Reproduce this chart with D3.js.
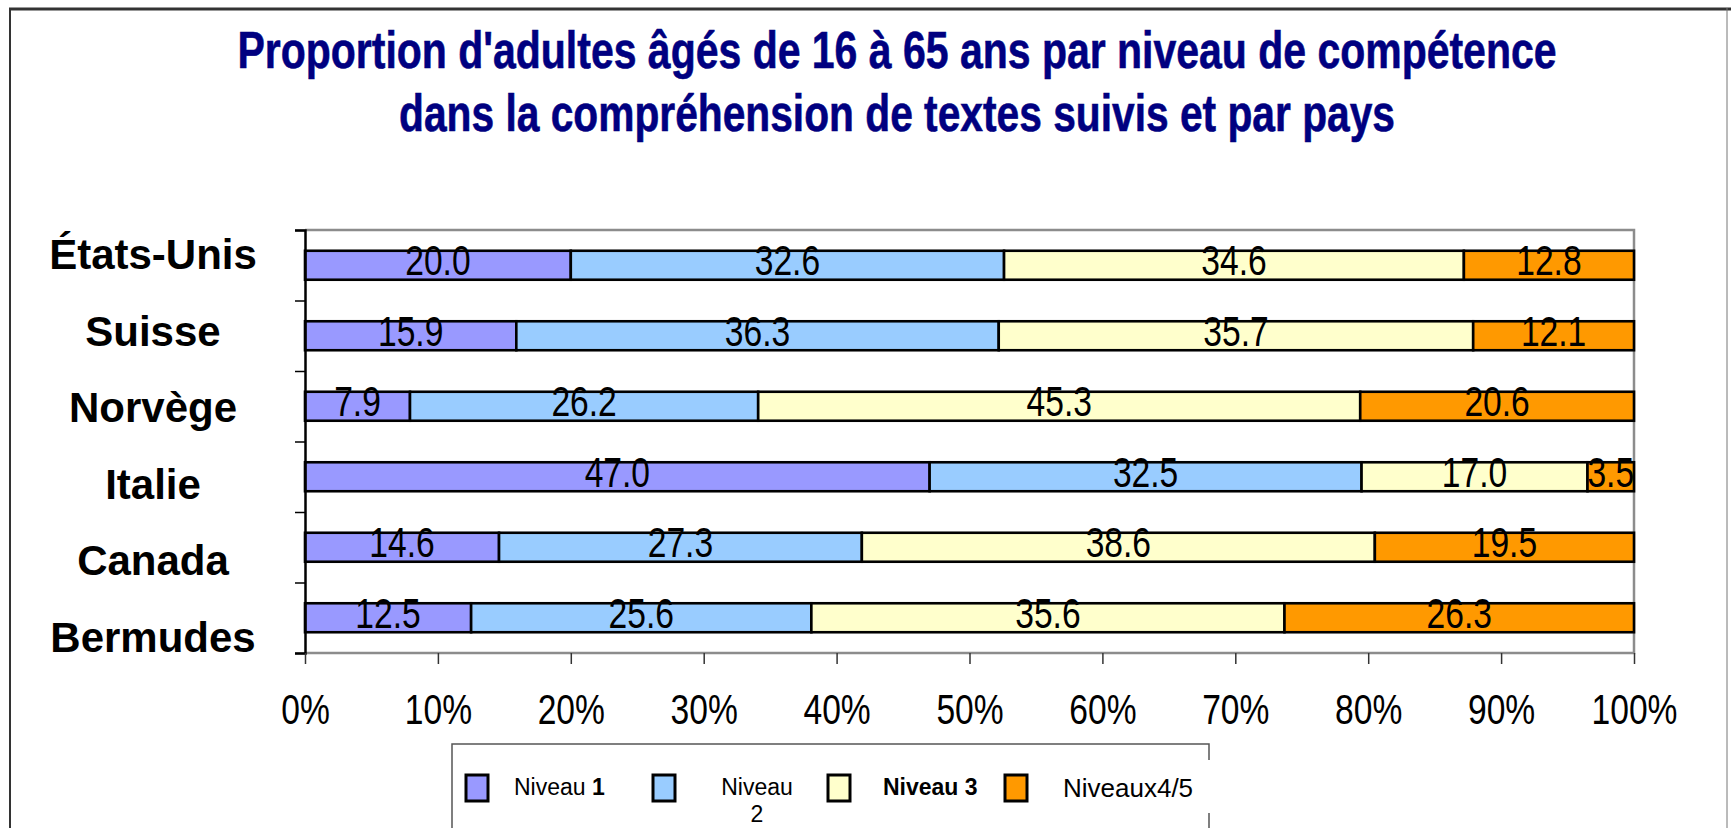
<!DOCTYPE html>
<html lang="fr">
<head>
<meta charset="utf-8">
<script src="https://d3js.org/d3.v7.min.js"></script>
<style type="text/css">
body {
	margin: 0;
	background: #fff;
	font-family: "Liberation Sans", Arial, sans-serif;
}
</style>
</head>
<body>
<script type="text/javascript">

// Data
var countries = ["États-Unis", "Suisse", "Norvège", "Italie", "Canada", "Bermudes"];
var levels = ["Niveau 1", "Niveau 2", "Niveau 3", "Niveaux4/5"];
var niveau1 = [20.0, 15.9, 7.9, 47.0, 14.6, 12.5];
var niveau2 = [32.6, 36.3, 26.2, 32.5, 27.3, 25.6];
var niveau3 = [34.6, 35.7, 45.3, 17.0, 38.6, 35.6];
var niveau45 = [12.8, 12.1, 20.6, 3.5, 19.5, 26.3];
var tickValues = [0, 10, 20, 30, 40, 50, 60, 70, 80, 90, 100];
var colors = ["#9999FF", "#99CCFF", "#FFFFCC", "#FF9900"];
var titleLines = ["Proportion d'adultes âgés de 16 à 65 ans par niveau de compétence",
                  "dans la compréhension de textes suivis et par pays"];

var width = 1731;
var height = 828;

// plot area
var plotLeft = 305, plotRight = 1634, plotTop = 230, plotBottom = 653;

var svg = d3.select("body")
			.append("svg")
			.attr("width", width)
			.attr("height", height);

// rows for the stack
var series = [niveau1, niveau2, niveau3, niveau45];
var rows = countries.map(function(c, i) {
	var r = {country: c};
	levels.forEach(function(l, j) { r[l] = series[j][i]; });
	return r;
});
var stacked = d3.stack().keys(levels)(rows);

var x = d3.scaleLinear().domain([0, 100]).range([plotLeft, plotRight]);
var y = d3.scaleBand().domain(countries).range([plotTop, plotBottom])
			.paddingInner(0.589).paddingOuter(0.2945);
var color = d3.scaleOrdinal().domain(levels).range(colors);

// outer frame
svg.append("line").attr("x1", 9).attr("x2", width).attr("y1", 9).attr("y2", 9)
	.style("stroke", "#333").style("stroke-width", 3);
svg.append("line").attr("x1", 10).attr("x2", 10).attr("y1", 8).attr("y2", height)
	.style("stroke", "#333").style("stroke-width", 2);
svg.append("line").attr("x1", 1727).attr("x2", 1727).attr("y1", 8).attr("y2", height)
	.style("stroke", "#777").style("stroke-width", 1);

// title (condensed like the original)
svg.append("g").selectAll("text")
	.data(titleLines)
	.enter()
	.append("text")
	.attr("x", 897)
	.attr("y", function(d, i) { return 68 + i * 63; })
	.attr("text-anchor", "middle")
	.attr("textLength", function(d, i) { return i === 0 ? 1319 : 996; })
	.attr("lengthAdjust", "spacingAndGlyphs")
	.style("font-size", "52px")
	.style("font-weight", "bold")
	.style("fill", "#000080")
	.style("stroke", "#000080")
	.style("stroke-width", 0.6)
	.text(function(d) { return d; });

// plot frame: grey top/right/bottom
svg.append("path")
	.attr("d", "M" + plotLeft + "," + plotTop + "H" + plotRight + "V" + plotBottom + "H" + plotLeft)
	.style("fill", "none")
	.style("stroke", "#8c8c8c")
	.style("stroke-width", 2.5);

// bars
var layer = svg.append("g").selectAll("g")
	.data(stacked)
	.enter()
	.append("g")
	.style("fill", function(d) { return color(d.key); });

layer.selectAll("rect")
	.data(function(d) { return d; })
	.enter()
	.append("rect")
	.attr("x", function(d) { return x(d[0]); })
	.attr("y", function(d) { return y(d.data.country); })
	.attr("width", function(d) { return x(d[1]) - x(d[0]); })
	.attr("height", y.bandwidth())
	.style("stroke", "#000")
	.style("stroke-width", 2.6);

// value labels
var fmt = d3.format(".1f");
stacked.forEach(function(s) {
	svg.append("g").selectAll("text")
		.data(s)
		.enter()
		.append("text")
		.attr("transform", function(d) {
			var cx = x((d[0] + d[1]) / 2);
			var cy = y(d.data.country) + y.bandwidth() / 2 + 10;
			return "translate(" + cx + "," + cy + ") scale(0.8,1)";
		})
		.attr("text-anchor", "middle")
		.style("font-size", "42px")
		.style("fill", "#000")
		.text(function(d) { return fmt(d[1] - d[0]); });
});

// left axis (ticks between categories)
var yIdx = d3.scaleLinear().domain([0, countries.length]).range([plotTop, plotBottom]);
var yAxis = svg.append("g")
	.attr("transform", "translate(" + plotLeft + ",0)")
	.call(d3.axisLeft(yIdx).ticks(countries.length).tickFormat("").tickSizeOuter(0).tickSize(10));
yAxis.select(".domain").style("stroke", "#000").style("stroke-width", 2.5);
yAxis.selectAll(".tick line").style("stroke", "#000").style("stroke-width", 1.5);

// category labels (placed independently of the bands, as in the original)
var yLabel = d3.scalePoint().domain(countries).range([269, 652]);
svg.append("g").selectAll("text")
	.data(countries)
	.enter()
	.append("text")
	.attr("x", 153)
	.attr("y", function(d) { return yLabel(d); })
	.attr("text-anchor", "middle")
	.style("font-size", "42px")
	.style("font-weight", "bold")
	.style("fill", "#000")
	.text(function(d) { return d; });

// bottom axis
var xAxis = svg.append("g")
	.attr("transform", "translate(0," + plotBottom + ")")
	.call(d3.axisBottom(x).tickValues(tickValues).tickSize(11).tickSizeOuter(0)
		.tickFormat(function(d) { return d + "%"; }));
xAxis.select(".domain").remove();
xAxis.selectAll(".tick line").style("stroke", "#333").style("stroke-width", 1.5);
xAxis.selectAll(".tick text")
	.attr("y", 71)
	.attr("dy", 0)
	.attr("transform", "scale(0.8,1)")
	.style("font-size", "42px")
	.style("font-family", "'Liberation Sans', Arial, sans-serif")
	.style("fill", "#000");

// legend box (right edge has a gap, as in the original)
var lg = svg.append("g");
lg.append("path")
	.attr("d", "M452," + height + "V744H1209V760M1209,813V" + height)
	.style("fill", "none")
	.style("stroke", "#555")
	.style("stroke-width", 1.5);

var swatchX = [466, 653, 828, 1005];
lg.selectAll("rect")
	.data(levels)
	.enter()
	.append("rect")
	.attr("x", function(d, i) { return swatchX[i]; })
	.attr("y", 775)
	.attr("width", 22)
	.attr("height", 26)
	.style("fill", function(d) { return color(d); })
	.style("stroke", "#000")
	.style("stroke-width", 3);

var t1 = lg.append("text").attr("x", 514).attr("y", 795).style("font-size", "23px");
t1.append("tspan").text("Niveau ");
t1.append("tspan").style("font-weight", "bold").text("1");

lg.append("text").attr("x", 757).attr("y", 795).attr("text-anchor", "middle")
	.style("font-size", "23px").text("Niveau");
lg.append("text").attr("x", 757).attr("y", 822).attr("text-anchor", "middle")
	.style("font-size", "23px").text("2");

lg.append("text").attr("x", 883).attr("y", 795)
	.style("font-size", "23px").style("font-weight", "bold").text("Niveau 3");

lg.append("text").attr("x", 1063).attr("y", 797)
	.style("font-size", "26px").text("Niveaux4/5");

</script>
</body>
</html>
